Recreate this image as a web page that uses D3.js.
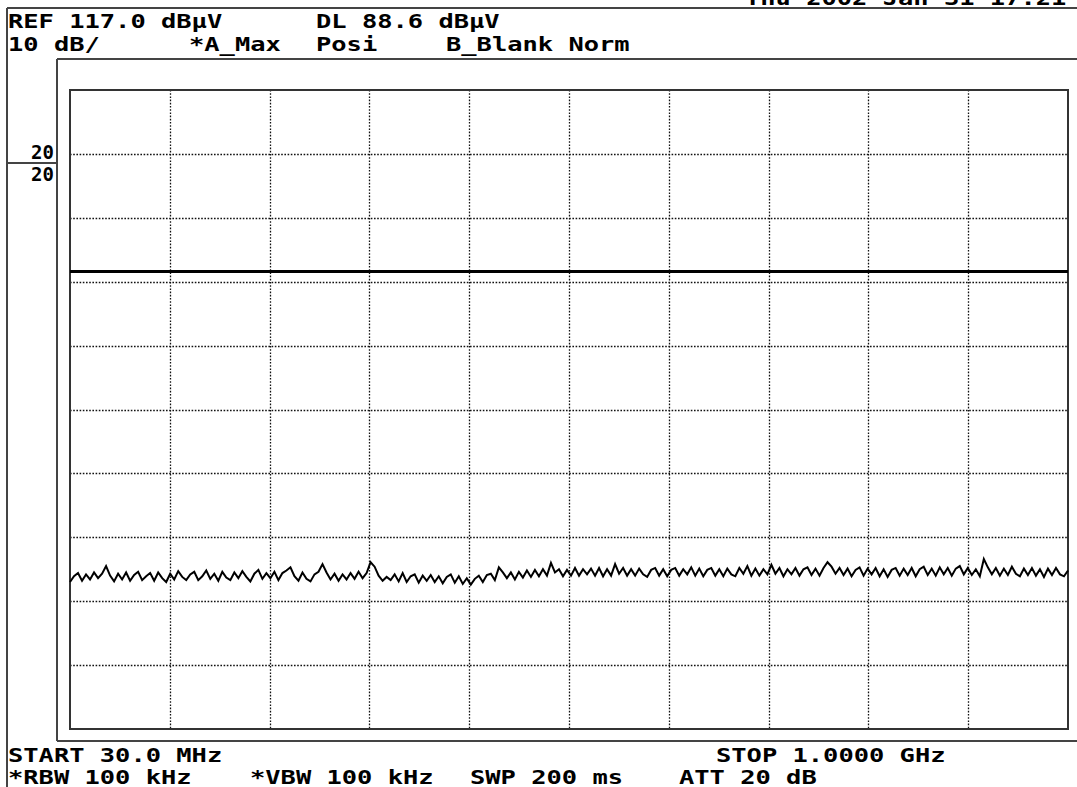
<!DOCTYPE html>
<html>
<head>
<meta charset="utf-8">
<script src="https://cdn.jsdelivr.net/npm/d3@7/dist/d3.min.js"></script>
<style>
  html, body { margin: 0; padding: 0; background: #fff; }
  svg { display: block; }
  text { font-family: "DejaVu Sans Mono", "Liberation Mono", monospace; fill: #000; font-weight: bold; }
</style>
</head>
<body>
<svg id="chart" width="1077" height="787"></svg>
<script>
// ---- data ----
const refLevel = 117.0;          // dBµV (top of screen)
const dbPerDiv = 10;
const displayLine = 88.6;        // dBµV
const startMHz = 30.0;
const stopMHz = 1000.0;
const gridDivsX = 10;
const gridDivsY = 10;

const headerRow1 = [
  { t: "REF 117.0 dB\u00b5V", x: 8 },
  { t: "DL 88.6 dB\u00b5V", x: 316 }
];
const headerRow2 = [
  { t: "10 dB/", x: 8 },
  { t: "*A_Max", x: 189 },
  { t: "Posi", x: 316 },
  { t: "B_Blank Norm", x: 446 }
];
const footerRow1 = [
  { t: "START 30.0 MHz", x: 8 },
  { t: "STOP 1.0000 GHz", x: 716 }
];
const footerRow2 = [
  { t: "*RBW 100 kHz", x: 8 },
  { t: "*VBW 100 kHz", x: 250 },
  { t: "SWP 200 ms", x: 470 },
  { t: "ATT 20 dB", x: 679 }
];
const topClipped = { t: "Thu 2002 Jan 31 17:21", x: 745 };
const sideLabels = ["20", "20"];

// Max-hold trace, dBµV, sweep points 30 MHz .. 1 GHz
const traceDb = [
  40.0,40.9,41.4,40.2,41.2,40.4,41.5,40.6,41.3,42.5,
  41.0,40.1,41.3,40.4,41.5,40.2,41.1,41.6,40.3,40.9,
  41.4,40.2,41.5,40.6,40.0,41.3,40.4,41.7,40.8,40.3,
  41.2,41.6,40.3,40.9,41.8,40.5,41.3,40.2,41.6,40.7,
  40.3,41.5,40.6,41.7,40.8,40.1,41.3,41.9,40.5,41.4,
  40.6,41.6,40.3,41.4,41.8,42.3,40.9,40.2,41.5,40.5,
  40.1,41.2,41.6,42.8,41.5,40.4,41.3,40.2,41.2,40.4,
  41.4,40.5,41.6,40.6,41.4,43.1,42.4,41.0,40.2,40.8,
  40.3,41.2,40.1,41.4,40.0,40.9,41.2,39.9,41.0,40.2,
  41.1,40.0,40.9,39.8,40.8,41.2,39.9,40.9,39.7,40.6,
  39.6,40.5,41.0,40.0,41.1,41.3,40.3,42.3,41.5,40.6,
  41.5,40.4,41.6,40.7,41.8,40.8,41.9,40.9,42.0,41.0,
  43.0,41.5,42.0,40.9,41.9,41.0,42.2,41.0,42.0,41.2,
  42.1,41.0,42.2,40.9,42.0,41.0,42.8,41.3,42.2,41.0,
  42.0,41.0,42.1,41.2,40.8,41.9,42.2,41.0,42.0,40.9,
  41.9,42.2,41.0,42.0,41.2,42.3,41.0,42.1,40.9,41.9,
  42.2,41.0,42.0,40.9,42.1,41.2,40.9,42.2,41.3,42.5,
  41.0,42.1,41.0,42.0,41.2,42.7,41.3,42.2,40.9,42.0,
  41.2,42.2,41.0,42.0,42.3,41.1,42.1,41.0,42.2,43.1,
  42.4,41.3,42.2,41.1,42.1,40.9,41.9,42.3,41.0,42.1,
  41.2,42.2,40.9,42.0,40.8,41.9,42.2,41.0,42.1,41.1,
  42.2,40.9,42.0,42.4,41.1,42.1,41.0,42.3,41.2,42.2,
  41.0,42.1,42.5,41.2,42.2,41.1,42.0,40.9,43.6,42.3,
  41.2,42.2,41.0,42.1,41.1,42.4,41.3,40.9,42.1,41.1,
  42.2,41.0,42.0,40.8,42.1,41.1,42.2,41.2,40.9,41.8
];

// ---- layout ----
const svg = d3.select("#chart");
const plot = { left: 70, right: 1068, top: 90, bottom: 729 };
const charW = 15.3;
const fontSize = 19;

const x = d3.scaleLinear().domain([startMHz, stopMHz]).range([plot.left, plot.right]);
const y = d3.scaleLinear().domain([refLevel - dbPerDiv * gridDivsY, refLevel]).range([plot.bottom, plot.top]);

// outer frames
const frame = svg.append("g").attr("fill", "none").attr("stroke", "#444").attr("stroke-width", 2);
frame.append("line").attr("x1", 7).attr("x2", 7).attr("y1", 8).attr("y2", 787);
frame.append("line").attr("x1", 7).attr("x2", 1077).attr("y1", 8).attr("y2", 8);
frame.append("line").attr("x1", 57).attr("x2", 57).attr("y1", 59).attr("y2", 741);
frame.append("line").attr("x1", 57).attr("x2", 1077).attr("y1", 59).attr("y2", 59);
frame.append("line").attr("x1", 57).attr("x2", 1077).attr("y1", 741).attr("y2", 741);
frame.append("line").attr("x1", 7).attr("x2", 57).attr("y1", 163).attr("y2", 163);

// grid
const xGridVals = d3.range(1, gridDivsX).map(i => startMHz + (stopMHz - startMHz) * i / gridDivsX);
const yGridVals = d3.range(1, gridDivsY).map(i => refLevel - dbPerDiv * i);
const grid = svg.append("g").attr("stroke", "#111").attr("stroke-width", 1.3).attr("stroke-dasharray", "1.6,1.6");
grid.selectAll("line.v").data(xGridVals).join("line").attr("class", "v")
  .attr("x1", d => Math.round(x(d)) + 0.5).attr("x2", d => Math.round(x(d)) + 0.5)
  .attr("y1", plot.top).attr("y2", plot.bottom);
grid.selectAll("line.h").data(yGridVals).join("line").attr("class", "h")
  .attr("x1", plot.left).attr("x2", plot.right)
  .attr("y1", d => Math.round(y(d)) + 0.5).attr("y2", d => Math.round(y(d)) + 0.5);

// plot box
svg.append("rect").attr("x", plot.left).attr("y", plot.top)
  .attr("width", plot.right - plot.left).attr("height", plot.bottom - plot.top)
  .attr("fill", "none").attr("stroke", "#333").attr("stroke-width", 2);

// display line
svg.append("line").attr("x1", plot.left).attr("x2", plot.right)
  .attr("y1", y(displayLine)).attr("y2", y(displayLine))
  .attr("stroke", "#000").attr("stroke-width", 3);

// trace
const n = traceDb.length;
const traceData = traceDb.map((v, i) => ({ f: startMHz + (stopMHz - startMHz) * i / (n - 1), v }));
svg.append("path").datum(traceData)
  .attr("fill", "none").attr("stroke", "#000").attr("stroke-width", 2)
  .attr("stroke-linejoin", "miter")
  .attr("d", d3.line().x(d => x(d.f)).y(d => y(d.v)).curve(d3.curveLinear));

// texts
function putRow(items, baseline) {
  svg.append("g").selectAll("text").data(items).join("text")
    .attr("x", d => d.x).attr("y", baseline)
    .attr("font-size", fontSize)
    .attr("textLength", d => d.t.length * charW)
    .attr("lengthAdjust", "spacingAndGlyphs")
    .text(d => d.t);
}
putRow([topClipped], 5);
putRow(headerRow1, 28);
putRow(headerRow2, 51);
putRow(footerRow1, 762);
putRow(footerRow2, 784);

svg.append("text").attr("x", 54).attr("y", 159).attr("text-anchor", "end")
  .attr("font-size", fontSize).text(sideLabels[0]);
svg.append("text").attr("x", 54).attr("y", 181).attr("text-anchor", "end")
  .attr("font-size", fontSize).text(sideLabels[1]);
</script>
</body>
</html>
